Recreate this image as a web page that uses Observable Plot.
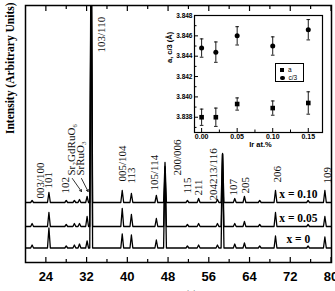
<!DOCTYPE html>
<html><head><meta charset="utf-8">
<script src="https://cdn.jsdelivr.net/npm/d3@7"></script>
<script src="https://cdn.jsdelivr.net/npm/@observablehq/plot@0.6"></script>
<style>
body{margin:0;background:#fff;}
#wrap{position:relative;width:335px;height:291px;overflow:hidden;background:#fff;}
#main{position:absolute;left:0;top:0;}
#inset{position:absolute;left:160px;top:10px;}
#legend{position:absolute;left:275px;top:63px;width:27px;height:17px;border:1.2px solid #000;background:#fff;font:6.5px "Liberation Sans",Arial,sans-serif;color:#000;}
#legend .row{position:absolute;left:4px;height:7px;line-height:7px;}
#legend .sq{display:inline-block;width:4px;height:4px;background:#000;margin-right:4px;vertical-align:middle;}
#legend .ci{display:inline-block;width:4.5px;height:4.5px;border-radius:50%;background:#000;margin-right:4px;vertical-align:middle;}
</style></head><body>
<div id="wrap"><div id="main"></div><div id="inset"></div>
<div id="legend"><div class="row" style="top:1.5px"><span class="sq"></span>a</div><div class="row" style="top:9.5px"><span class="ci"></span>c/3</div></div>
</div>
<script>
// ---------- main XRD panel data ----------
const thetaTicks = [24, 32, 40, 48, 56, 64, 72, 80];
const thetaMinor = [28, 36, 44, 52, 60, 68, 76];
const seriesNames = ["x = 0", "x = 0.05", "x = 0.10"];
const seriesBaselines = [14.5, 36, 60];
const peakPositions = [21.3, 24.6, 28.0, 29.6, 30.6, 32.1, 32.9, 39.0, 40.8, 45.7, 47.4, 51.8, 54.0, 57.7, 58.7, 61.1, 63.0, 66.0, 69.1, 75.5, 78.8];
const heightsX0    = [3, 20, 2, 3, 4, 7, 300, 14, 13, 8, 80, 2, 3, 3, 94, 4, 5, 2, 12, 2, 11];
const heightsX005  = [3, 14, 2, 3, 3, 10, 300, 18, 12, 8, 60, 2, 3, 3, 72, 3, 5, 2, 14, 2, 10];
const heightsX010  = [2, 10, 2, 2, 3, 6, 300, 12, 9, 7, 40, 2, 4, 3, 49, 4, 6, 2, 12, 2, 12];
const peakLabels   = ["003/100", "101", "102", "Sr\u2082GdRuO\u2086", "SrRuO\u2083", "103/110", "005/104", "113", "105/114", "200/006", "115", "211", "204213/116", "107", "205", "206", "109"];
const peakLabelX   = [22.9, 24.5, 27.9, 29.0, 30.8, 34.9, 39.1, 40.8, 45.3, 49.8, 51.8, 54.0, 56.9, 60.9, 63.2, 69.5, 79.3];
const peakLabelY   = [64, 74, 69, 87, 87, 210, 81, 79, 72, 87, 69, 67, 62, 67, 69, 80, 79];
const arrowFrom = [[29.2, 84], [31.0, 84]];
const arrowTo   = [[31.0, 71], [32.3, 71]];
const seriesLabelTheta = 73.6;

const halfWidth = 0.28;
function profile(heights, base, name) {
  const pts = [{t: 20, y: base, s: name}];
  peakPositions.forEach((p, i) => {
    pts.push({t: p - halfWidth, y: base, s: name}, {t: p, y: base + heights[i], s: name}, {t: p + halfWidth, y: base, s: name});
  });
  pts.push({t: 80.3, y: base, s: name});
  return pts;
}
const traces = [
  ...profile(heightsX0, seriesBaselines[0], seriesNames[0]),
  ...profile(heightsX005, seriesBaselines[1], seriesNames[1]),
  ...profile(heightsX010, seriesBaselines[2], seriesNames[2])
];
const labelRows = peakLabels.map((l, i) => ({l, x: peakLabelX[i], y: peakLabelY[i]}));
const arrowRows = arrowFrom.map((f, i) => ({x1: f[0], y1: f[1], x2: arrowTo[i][0], y2: arrowTo[i][1]}));
const seriesRows = seriesNames.map((n, i) => ({n, x: seriesLabelTheta, y: seriesBaselines[i] + 8.5}));

const W = 335, H = 291, mL = 25, mR = 4, mT = 5, mB = 29;
const innerH = H - mT - mB;

const main = Plot.plot({
  width: W, height: H,
  marginLeft: mL, marginRight: mR, marginTop: mT, marginBottom: mB,
  style: {fontFamily: "'Liberation Serif','Times New Roman',serif", fontSize: "11px", background: "transparent", color: "#000"},
  x: {domain: [20, 80.1]},
  y: {domain: [0, innerH], axis: null},
  marks: [
    Plot.line(traces, {x: "t", y: "y", z: "s", stroke: "#000", strokeWidth: 1.3, clip: true}),
    Plot.tickX(thetaTicks, {x: d => d, insetTop: innerH - 5, stroke: "#000", strokeWidth: 1.2}),
    Plot.tickX(thetaMinor, {x: d => d, insetTop: innerH - 3, stroke: "#000", strokeWidth: 1.2}),
    Plot.tickX(thetaTicks, {x: d => d, insetBottom: innerH - 6, stroke: "#000", strokeWidth: 1.2}),
    Plot.tickX(thetaMinor, {x: d => d, insetBottom: innerH - 4, stroke: "#000", strokeWidth: 1.2}),
    Plot.axisX({ticks: thetaTicks, tickSize: 0, tickPadding: 9, fontSize: 13, fontWeight: "bold", fontFamily: "'Liberation Sans',Arial,sans-serif", label: null}),
    Plot.text(labelRows, {x: "x", y: "y", text: "l", rotate: -90, textAnchor: "start", fontSize: 11, fill: "#111"}),
    Plot.arrow(arrowRows, {x1: "x1", y1: "y1", x2: "x2", y2: "y2", stroke: "#000", strokeWidth: 0.8, headLength: 4}),
    Plot.text(seriesRows, {x: "x", y: "y", text: "n", fontSize: 11.5, fontWeight: "bold", fill: "#000"}),
    Plot.text(["Intensity (Arbitrary Units)"], {frameAnchor: "left", rotate: -90, dx: -15, fontSize: 11.5, fontWeight: "bold"}),
    Plot.text(["2 \u0398 (\u00b0)"], {frameAnchor: "bottom", dy: 28, dx: 2, fontSize: 12, fontWeight: "bold", lineAnchor: "top"}),
    Plot.frame({stroke: "#000", strokeWidth: 1.5})
  ]
});
document.getElementById("main").appendChild(main);

// ---------- inset data ----------
const irContent = [0.00, 0.02, 0.05, 0.10, 0.15];
const aValues   = [3.8380, 3.8380, 3.8393, 3.8389, 3.8394];
const aErr      = [0.0008, 0.0009, 0.0006, 0.0007, 0.0011];
const c3Values  = [3.8448, 3.8444, 3.8460, 3.8450, 3.8466];
const c3Err     = [0.0009, 0.0010, 0.0009, 0.0009, 0.0010];
const insetXTicks = [0, 0.05, 0.10, 0.15];
const insetXMinor = [0.025, 0.075, 0.125];
const insetYTicks = [3.838, 3.840, 3.842, 3.844, 3.846, 3.848];
const insetYMinor = [3.837, 3.839, 3.841, 3.843, 3.845, 3.847];

const aRows = irContent.map((x, i) => ({x, v: aValues[i], e: aErr[i]}));
const cRows = irContent.map((x, i) => ({x, v: c3Values[i], e: c3Err[i]}));
const both = [...aRows, ...cRows];
const capSymbol = {draw(ctx, size) { const r = Math.sqrt(size / Math.PI); ctx.moveTo(-r, 0); ctx.lineTo(r, 0); }};

const iW = 172, iH = 145, iL = 34, iR = 10, iT = 5, iB = 23;
const iInW = iW - iL - iR, iInH = iH - iT - iB;
const inset = Plot.plot({
  width: iW, height: iH, marginLeft: iL, marginRight: iR, marginTop: iT, marginBottom: iB,
  style: {fontFamily: "'Liberation Sans',Arial,sans-serif", fontSize: "7px", background: "transparent", color: "#000"},
  x: {domain: [-0.01, 0.17]},
  y: {domain: [3.8365, 3.848]},
  marks: [
    Plot.frame({fill: "#fff", stroke: "none"}),
    Plot.tickX(insetXTicks, {x: d => d, insetTop: iInH - 4, stroke: "#000"}),
    Plot.tickX(insetXMinor, {x: d => d, insetTop: iInH - 2.5, stroke: "#000"}),
    Plot.tickY(insetYTicks, {y: d => d, insetRight: iInW - 4, stroke: "#000"}),
    Plot.tickY(insetYMinor, {y: d => d, insetRight: iInW - 2.5, stroke: "#000"}),
    Plot.axisX({ticks: insetXTicks, tickSize: 0, tickPadding: 1.5, tickFormat: d3.format(".2f"), fontWeight: "bold", fontSize: 7, label: null}),
    Plot.axisY({ticks: insetYTicks, tickSize: 0, tickPadding: 2, tickFormat: d3.format(".3f"), fontWeight: "bold", fontSize: 6.5, label: null}),
    Plot.ruleX(both, {x: "x", y1: d => d.v - d.e, y2: d => d.v + d.e, stroke: "#000", strokeWidth: 0.9}),
    Plot.dot(both, {x: "x", y: d => d.v + d.e, symbol: capSymbol, r: 1.8, stroke: "#000", strokeWidth: 0.9, fill: "none"}),
    Plot.dot(both, {x: "x", y: d => d.v - d.e, symbol: capSymbol, r: 1.8, stroke: "#000", strokeWidth: 0.9, fill: "none"}),
    Plot.dot(aRows, {x: "x", y: "v", symbol: "square", r: 2.6, fill: "#000", stroke: "none"}),
    Plot.dot(cRows, {x: "x", y: "v", symbol: "circle", r: 2.5, fill: "#000", stroke: "none"}),
    Plot.text(["a, c/3 (\u00c5)"], {frameAnchor: "left", rotate: -90, dx: -25, dy: -11, fontSize: 7.5, fontWeight: "bold"}),
    Plot.text(["Ir at.%"], {frameAnchor: "bottom", dy: 14, dx: 2, fontSize: 7.5, fontWeight: "bold"}),
    Plot.frame({stroke: "#000", strokeWidth: 1.2})
  ]
});
document.getElementById("inset").appendChild(inset);
</script>
</body></html>
